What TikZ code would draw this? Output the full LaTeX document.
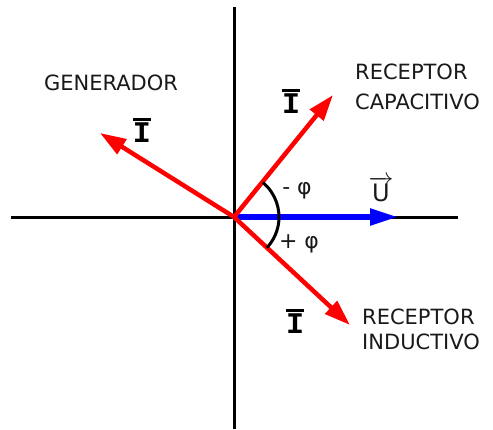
\documentclass[tikz,border=0pt]{standalone}
\usepackage{fontspec}
\newfontfamily\labelfont{DejaVu Sans}
\newfontfamily\phasorfont{Liberation Mono}
\usetikzlibrary{arrows.meta}
\newcommand{\phasorI}{\leavevmode\vbox{\hrule height 3pt\kern1.8pt\hbox{\phasorfont\bfseries I}}}

\begin{document}
\begin{tikzpicture}[x=1pt, y=-1pt, font=\labelfont,
    axis/.style={line width=3pt, black},
    current/.style={-{Triangle[length=26pt, width=17pt]}, line width=4.5pt, red},
    voltage/.style={-{Triangle[length=28pt, width=16pt]}, line width=5.5pt, blue},
    label/.style={inner sep=0pt, text=black!90, font=\labelfont\fontsize{21}{30}\selectfont},
    phasor/.style={inner sep=0pt, font=\fontsize{30}{34}\selectfont}]
    \useasboundingbox (0,0) rectangle (493,429);

    % Axes
    \coordinate (O) at (234,217);
    \coordinate (xl) at (11,217);
    \coordinate (xr) at (458,217);
    \coordinate (yt) at (234,7);
    \coordinate (yb) at (234,429);
    \draw[axis] (xl) -- (xr);
    \draw[axis] (yt) -- (yb);

    % Phasor tips
    \coordinate (gen) at (100,133);
    \coordinate (cap) at (333,95);
    \coordinate (ind) at (350,325);
    \coordinate (volt) at (398,217);

    % Phasors
    \draw[voltage] (O) -- (volt);
    \draw[current] (O) -- (gen);
    \draw[current] (O) -- (cap);
    \draw[current] (O) -- (ind);

    % Angle
    \draw[line width=3pt] (O) ++(-50:45) arc (-50:43:45);
    \node[label, font=\labelfont\fontsize{22}{26}\selectfont] (phim) at (297,191) {- φ};
    \node[label, font=\labelfont\fontsize{22}{26}\selectfont] (phip) at (299,244) {+ φ};

    % Labels
    \node[label] (generador) at (111,83) {GENERADOR};
    \node[label, anchor=west, align=left] (capacitivo) at (355,87) {RECEPTOR\\CAPACITIVO};
    \node[label, anchor=west, align=left, font=\labelfont\fontsize{21}{25}\selectfont] (inductivo) at (362,329.5) {RECEPTOR\\INDUCTIVO};

    \node[phasor] (Igen) at (142,130) {\phasorI};
    \node[phasor] (Icap) at (291,101) {\phasorI};
    \node[phasor] (Iind) at (295,321) {\phasorI};
    \node[label, font=\labelfont\fontsize{24}{28}\selectfont] (U) at (381,189) {$\overrightarrow{\hbox{\kern1pt U\kern1pt}}$};
\end{tikzpicture}
\end{document}
